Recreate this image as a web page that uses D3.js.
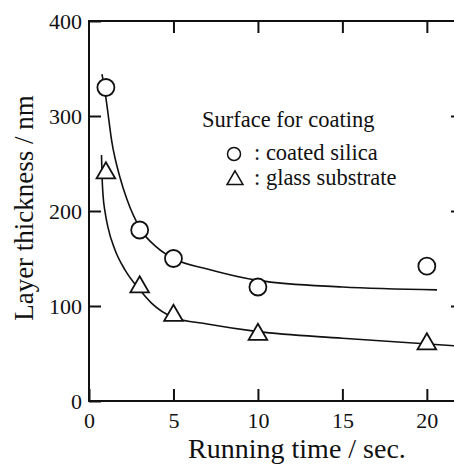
<!DOCTYPE html>
<html>
<head>
<meta charset="utf-8">
<script src="https://cdn.jsdelivr.net/npm/d3@7"></script>
<style>
  body { margin: 0; background: #fff; }
  svg { display: block; }
  .axis line { stroke: #111; stroke-width: 2; }
  .axis path { display: none; }
</style>
</head>
<body>
<svg id="chart" width="454" height="465"></svg>
<script>
// measured points
var times = [1, 3, 5, 10, 20];
var silica = [330, 180, 150, 120, 142];
var glass = [240, 120, 90, 70, 60];

// fitted curves
var silicaFitX = [0.77, 1.0, 1.36, 1.84, 2.25, 3.08, 4, 5, 7, 10, 15, 20.6];
var silicaFitY = [344, 319, 272, 235, 212, 180, 162, 150, 139, 127, 120, 117];
var glassFitX = [0.74, 0.77, 0.83, 0.95, 1.12, 1.54, 2.13, 3.0, 3.7, 5, 7, 10, 15, 21.7];
var glassFitY = [259, 238, 217, 199, 183, 159, 138, 117, 103, 88, 81, 73, 66, 58];

var xTicks = [0, 5, 10, 15, 20];
var yTicks = [0, 100, 200, 300, 400];

var serif = '"Liberation Serif", "DejaVu Serif", serif';

var margin = {top: 21, right: -9, bottom: 64, left: 89},
  width = 454 - margin.left - margin.right,
  height = 465 - margin.top - margin.bottom;

var svg = d3.select("#chart");
var g = svg.append("g")
  .attr("transform", "translate(" + margin.left + "," + margin.top + ")");

var x = d3.scaleLinear().domain([0, 22.14]).range([0, width]);
var y = d3.scaleLinear().domain([0, 400]).range([height, 0]);

// axes with inward ticks
g.append("g").attr("class", "axis")
  .attr("transform", "translate(0," + height + ")")
  .call(d3.axisBottom(x).tickValues(xTicks).tickSize(-12).tickPadding(11))
  .attr("font-family", serif).attr("font-size", 22)
  .selectAll("text").attr("fill", "#111");

g.append("g").attr("class", "axis")
  .call(d3.axisLeft(y).tickValues(yTicks).tickSize(-12).tickPadding(7))
  .attr("font-family", serif).attr("font-size", 22)
  .selectAll("text").attr("fill", "#111");

g.append("g").attr("class", "axis")
  .call(d3.axisTop(x).tickValues(xTicks.slice(1)).tickSize(-12).tickFormat(""));

g.append("g").attr("class", "axis")
  .attr("transform", "translate(" + width + ",0)")
  .call(d3.axisRight(y).tickValues(yTicks.slice(1, 4)).tickSize(-12).tickFormat(""));

// frame
g.append("rect")
  .attr("width", width).attr("height", height)
  .attr("fill", "none").attr("stroke", "#111").attr("stroke-width", 2);

// fitted curves
var line = d3.line()
  .x(function(d) { return x(d[0]); })
  .y(function(d) { return y(d[1]); })
  .curve(d3.curveMonotoneX);

[[silicaFitX, silicaFitY], [glassFitX, glassFitY]].forEach(function(s) {
  g.append("path")
    .datum(d3.zip(s[0], s[1]))
    .attr("d", line)
    .attr("fill", "none").attr("stroke", "#111").attr("stroke-width", 1.6);
});

// markers
var tri = d3.symbol().type(d3.symbolTriangle).size(150);

g.selectAll(".circ").data(d3.zip(times, silica)).enter()
  .append("circle")
  .attr("class", "circ")
  .attr("cx", function(d) { return x(d[0]); })
  .attr("cy", function(d) { return y(d[1]); })
  .attr("r", 8.5)
  .attr("fill", "#fff").attr("stroke", "#111").attr("stroke-width", 1.8);

g.selectAll(".tri").data(d3.zip(times, glass)).enter()
  .append("path")
  .attr("class", "tri")
  .attr("d", tri)
  .attr("transform", function(d) { return "translate(" + x(d[0]) + "," + y(d[1]) + ")"; })
  .attr("fill", "#fff").attr("stroke", "#111").attr("stroke-width", 1.8);

// legend
var legend = svg.append("g").attr("font-family", serif).attr("font-size", 22.5).attr("fill", "#111");
legend.append("text").attr("x", 202).attr("y", 127).text("Surface for coating");
legend.append("circle").attr("cx", 234).attr("cy", 154).attr("r", 6.5)
  .attr("fill", "#fff").attr("stroke", "#111").attr("stroke-width", 1.5);
legend.append("text").attr("x", 254).attr("y", 160).text(": coated silica");
legend.append("path").attr("d", d3.symbol().type(d3.symbolTriangle).size(110))
  .attr("transform", "translate(235,180)")
  .attr("fill", "#fff").attr("stroke", "#111").attr("stroke-width", 1.5);
legend.append("text").attr("x", 254).attr("y", 185).text(": glass substrate");

// axis titles
svg.append("text")
  .attr("x", 297).attr("y", 458)
  .attr("text-anchor", "middle")
  .attr("font-family", serif).attr("font-size", 28).attr("fill", "#111")
  .text("Running time / sec.");

svg.append("text")
  .attr("transform", "translate(33,208) rotate(-90)")
  .attr("text-anchor", "middle")
  .attr("font-family", serif).attr("font-size", 27).attr("fill", "#111")
  .text("Layer thickness / nm");
</script>
</body>
</html>
